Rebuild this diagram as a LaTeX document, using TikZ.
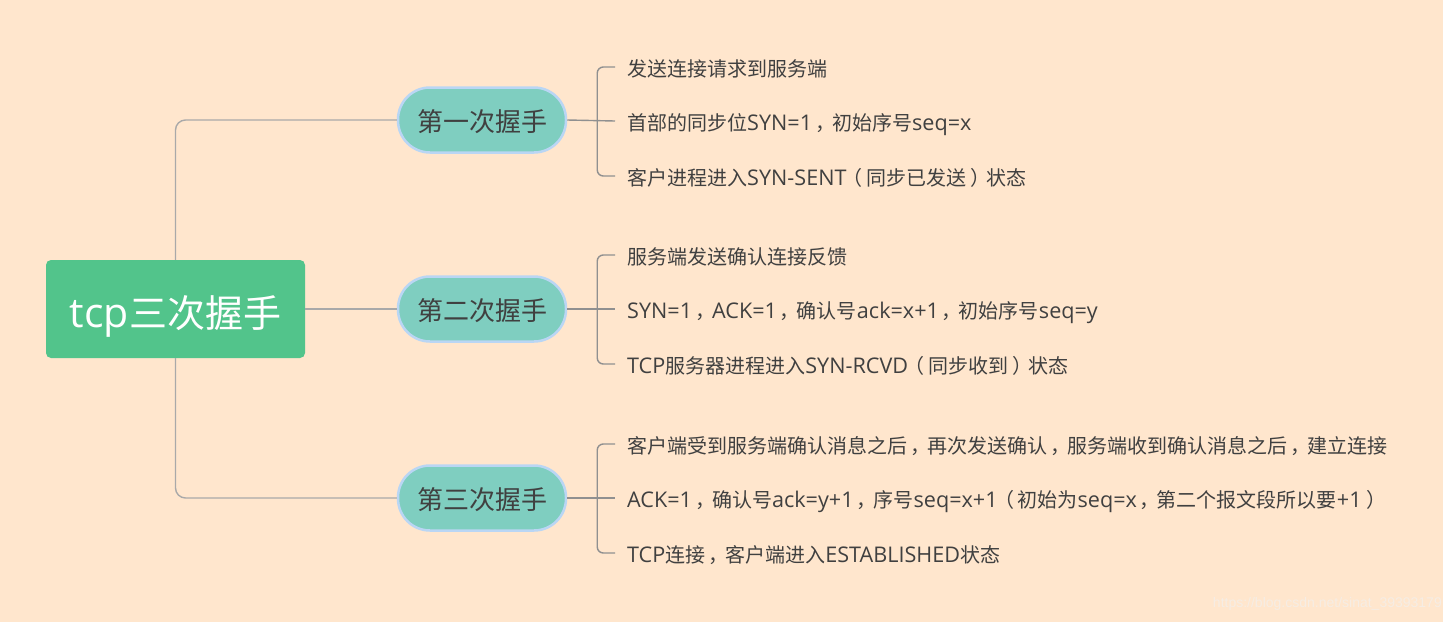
\documentclass[tikz,border=0pt]{standalone}
\usepackage{fontspec}
\setmainfont{Open Sans}[Scale=1.08]
\newfontfamily\cjkfont{Noto Sans CJK SC}
\newfontfamily\wmfont{Liberation Sans}
\usetikzlibrary{calc}
% automatic switch to the CJK font for CJK characters
\XeTeXinterchartokenstate=1
\newXeTeXintercharclass\CJKcls
\newcount\cjkcc
\cjkcc="3000 \loop \XeTeXcharclass\cjkcc=\CJKcls \ifnum\cjkcc<"303F \advance\cjkcc 1 \repeat
\cjkcc="4E00 \loop \XeTeXcharclass\cjkcc=\CJKcls \ifnum\cjkcc<"9FFF \advance\cjkcc 1 \repeat
\cjkcc="FF00 \loop \XeTeXcharclass\cjkcc=\CJKcls \ifnum\cjkcc<"FFEF \advance\cjkcc 1 \repeat
\XeTeXinterchartoks 0 \CJKcls = {\begingroup\cjkfont}
\XeTeXinterchartoks 4095 \CJKcls = {\begingroup\cjkfont}
\XeTeXinterchartoks \CJKcls 0 = {\endgroup}
\XeTeXinterchartoks \CJKcls 4095 = {\endgroup}
% centred full-width punctuation
\newcommand\fc{\mbox{\cjkfont\hbox to 1em{\kern0.15em，\hss}}}
\newcommand\lp{\mbox{\cjkfont\hbox to 1em{\kern-0.18em（\hss}}}
\newcommand\rp{\mbox{\cjkfont\hbox to 1em{\kern0.22em）\hss}}}
\definecolor{bgc}{HTML}{FFE6CD}
\definecolor{rootc}{HTML}{52C48B}
\definecolor{brc}{HTML}{7FCEC0}
\definecolor{brd}{HTML}{BAD6F4}
\definecolor{linec}{HTML}{A9A9A9}
\definecolor{txtc}{HTML}{404040}
\definecolor{wmc}{HTML}{F6EDE4}
\tikzset{
  rootnode/.style={fill=rootc, rounded corners=5pt, minimum width=259pt, minimum height=98pt,
    text=white, font=\fontsize{38}{42}\selectfont, inner sep=0pt, text height=42pt, text depth=6pt},
  branchnode/.style={fill=brc, draw=brd, line width=2.5pt, rounded corners=32pt,
    minimum width=168pt, minimum height=65pt, text=txtc, font=\fontsize{26}{30}\selectfont, inner sep=0pt,
    text height=26pt, text depth=4pt},
  leafnode/.style={anchor=west, inner xsep=12pt, inner ysep=0pt, text=txtc, font=\fontsize{20}{24}\selectfont,
    text height=22pt, text depth=3.4pt},
  conn/.style={draw=linec, line width=1.4pt, rounded corners=10pt},
  brk/.style={draw=linec!85!black, line width=1.4pt, rounded corners=6pt},
}
\begin{document}
\begin{tikzpicture}[x=1pt,y=-1pt]
\fill[white] (0,0) rectangle (1452,622);
\fill[bgc] (0,0) rectangle (1443,622);
\useasboundingbox (0,0) rectangle (1452,622);

\node[rootnode] (root) at (175.5,309) {tcp三次握手};
\node[branchnode] (b1) at (482,120) {第一次握手};
\node[branchnode] (b2) at (482,309) {第二次握手};
\node[branchnode] (b3) at (482,498) {第三次握手};

\draw[conn] (root.north) |- (b1.west);
\draw[conn] (root.east) -- (b2.west);
\draw[conn] (root.south) |- (b3.west);

\node[leafnode] (l11) at (615,67) {发送连接请求到服务端};
\node[leafnode] (l12) at (615,121) {首部的同步位SYN=1\fc 初始序号seq=x};
\node[leafnode] (l13) at (615,176) {客户进程进入SYN-SENT\lp 同步已发送\rp 状态};
\node[leafnode] (l21) at (615,255) {服务端发送确认连接反馈};
\node[leafnode] (l22) at (615,309) {SYN=1\fc ACK=1\fc 确认号ack=x+1\fc 初始序号seq=y};
\node[leafnode] (l23) at (615,364) {TCP服务器进程进入SYN-RCVD\lp 同步收到\rp 状态};
\node[leafnode] (l31) at (615,444) {客户端受到服务端确认消息之后\fc 再次发送确认\fc 服务端收到确认消息之后\fc 建立连接};
\node[leafnode] (l32) at (615,498) {ACK=1\fc 确认号ack=y+1\fc 序号seq=x+1\lp 初始为seq=x\fc 第二个报文段所以要+1\rp};
\node[leafnode] (l33) at (615,553) {TCP连接\fc 客户端进入ESTABLISHED状态};

\foreach \i in {1,2,3}{
  \coordinate (k\i) at ($(b\i.east)+(30,0)$);
  \draw[brk] (b\i.east) -- (l\i2.west);
  \draw[brk] (l\i1.west) -| (k\i) |- (l\i3.west);
}

\node[anchor=east, inner sep=0pt, text=wmc, font=\wmfont\fontsize{14}{16}\selectfont] (wm) at (1442,604) {https://blog.csdn.net/sinat\_39393179};
\end{tikzpicture}
\end{document}
